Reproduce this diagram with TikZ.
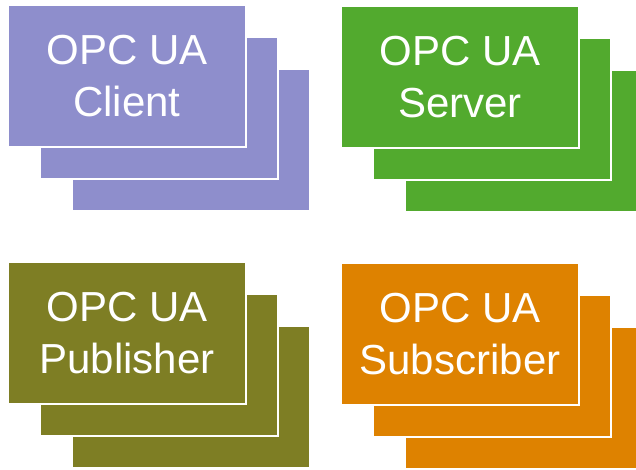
\documentclass[tikz,border=0pt]{standalone}
\usepackage{fontspec}
\setmainfont{Liberation Sans}
\definecolor{clientc}{RGB}{142,142,204}
\definecolor{serverc}{RGB}{82,170,46}
\definecolor{pubc}{RGB}{126,126,36}
\definecolor{subc}{RGB}{222,130,0}
\begin{document}
\begin{tikzpicture}[x=1pt,y=-1pt,
  card/.style={anchor=north west,minimum width=238pt,minimum height=142pt,
    inner sep=0pt,outer sep=0pt,draw=white,line width=1.3pt,rectangle},
  cardtext/.style={text=white,align=center,font=\fontsize{42}{52}\selectfont}]
\useasboundingbox (0,0) rectangle (636,469);
\clip (0,0) rectangle (636,469);
% Client
\node[card,fill=clientc] (c3) at (72,69) {};
\node[card,fill=clientc] (c2) at (40,37) {};
\node[card,fill=clientc,cardtext] (c1) at (8,5) {OPC UA\\Client};
% Server
\node[card,fill=serverc] (s3) at (405,70) {};
\node[card,fill=serverc] (s2) at (373,38) {};
\node[card,fill=serverc,cardtext] (s1) at (341,6) {OPC UA\\Server};
% Publisher
\node[card,fill=pubc] (p3) at (72,326) {};
\node[card,fill=pubc] (p2) at (40,294) {};
\node[card,fill=pubc,cardtext] (p1) at (8,262) {OPC UA\\Publisher};
% Subscriber
\node[card,fill=subc] (b3) at (405,327) {};
\node[card,fill=subc] (b2) at (373,295) {};
\node[card,fill=subc,cardtext] (b1) at (341,263) {OPC UA\\Subscriber};
\end{tikzpicture}
\end{document}
